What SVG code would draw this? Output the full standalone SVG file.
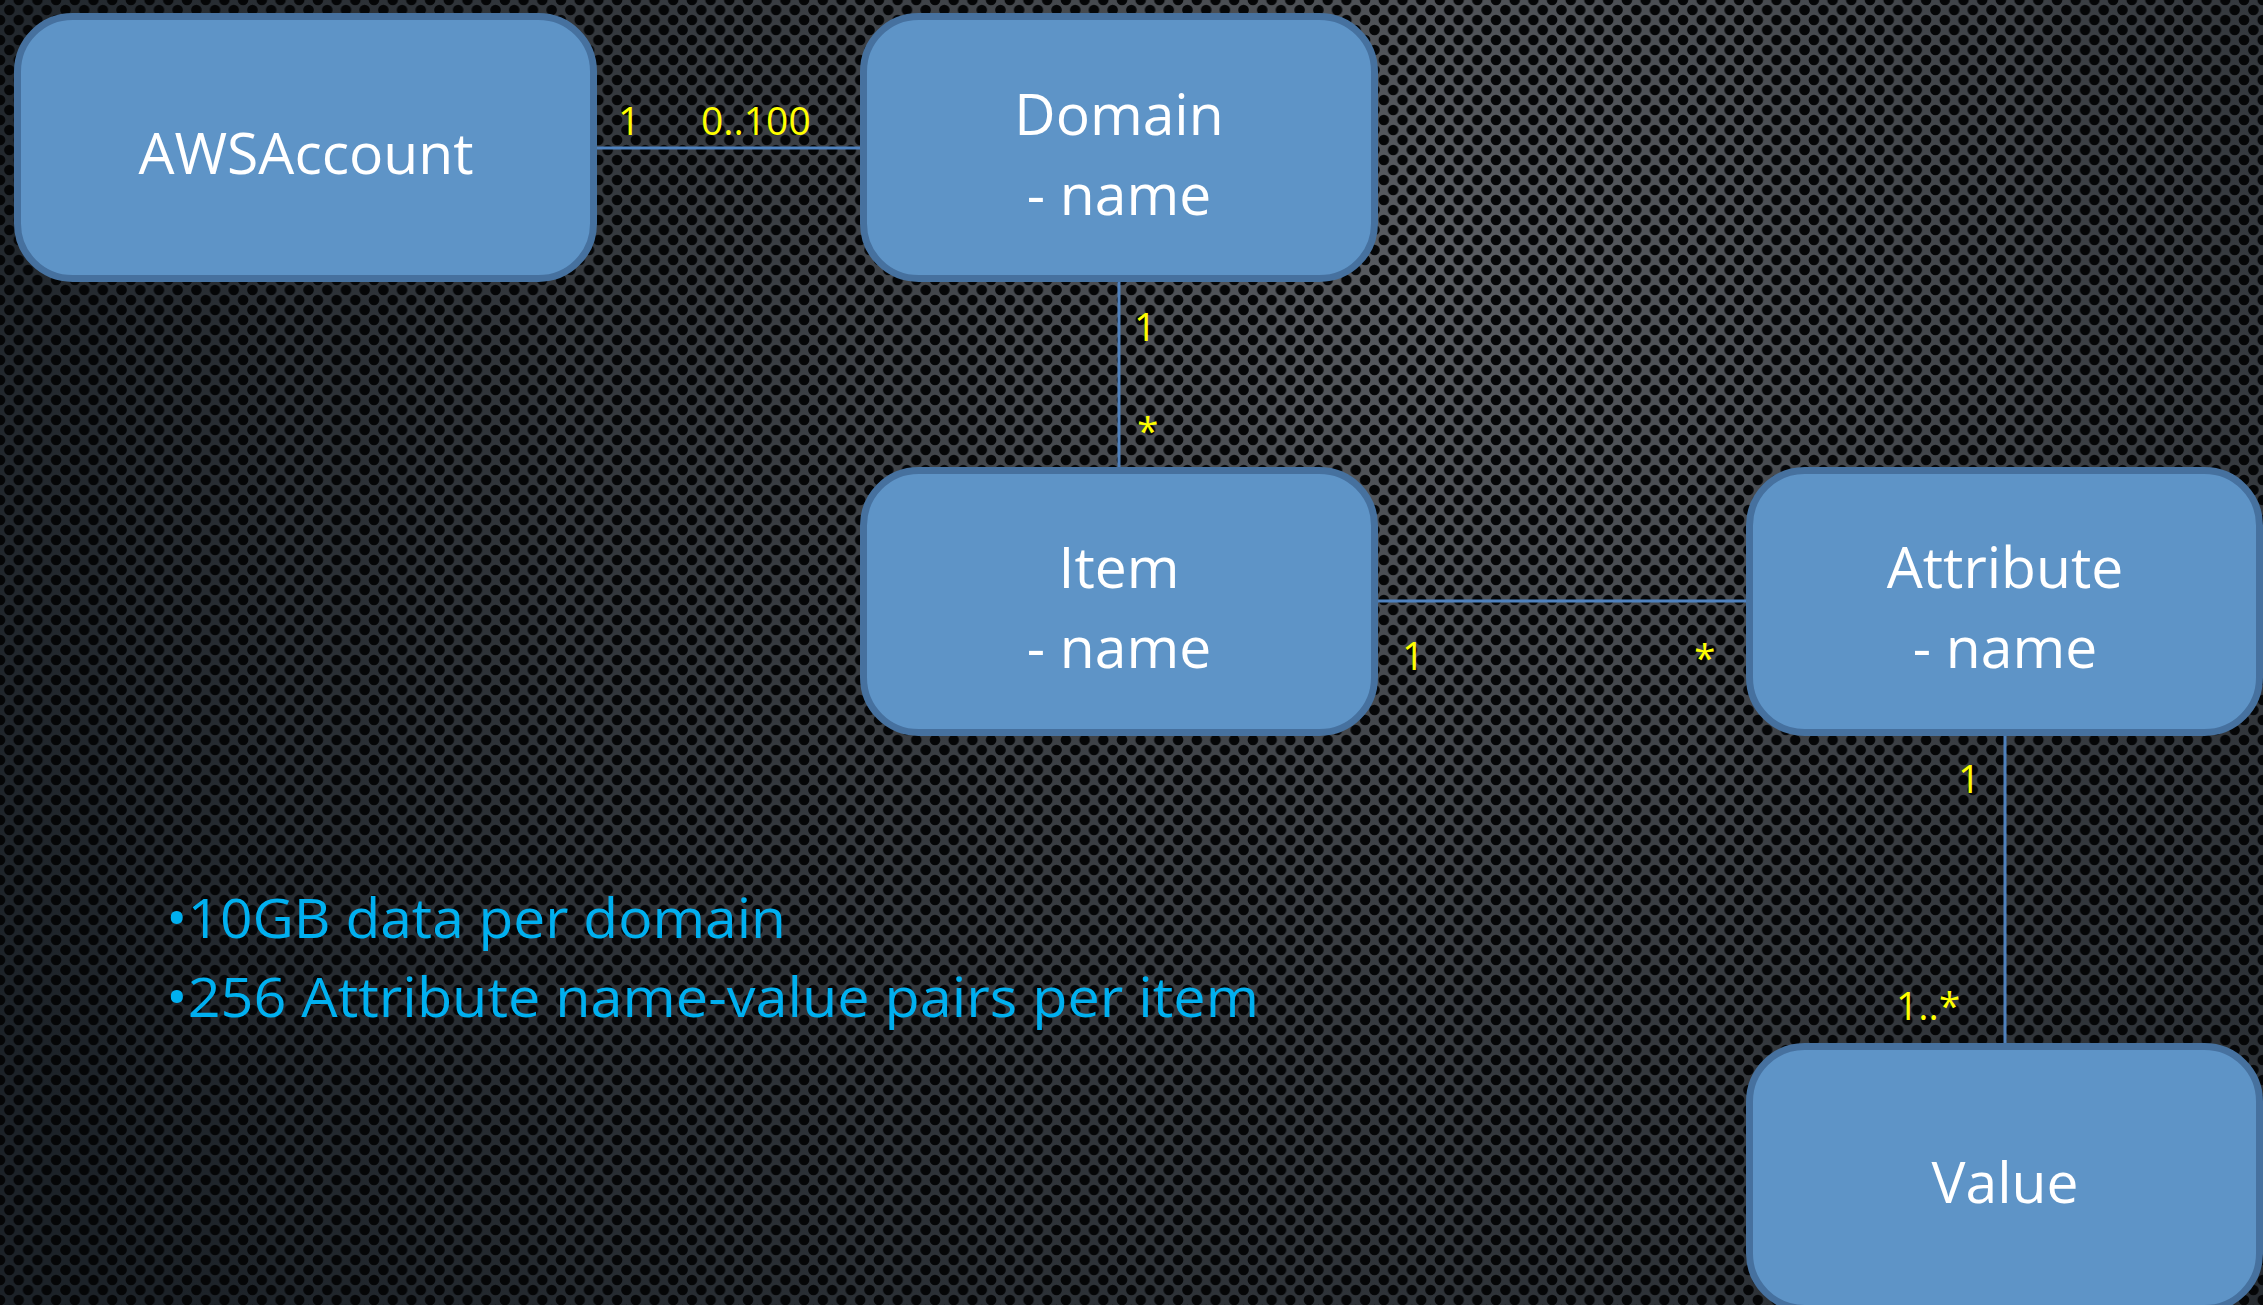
<svg xmlns="http://www.w3.org/2000/svg" width="2263" height="1305" viewBox="0 0 2263 1305">
<style>
.box{fill:#5e94c7;stroke:#46719f;stroke-width:7}
.lbl{font-family:"Open Sans","Noto Sans",sans-serif;font-size:57px;fill:#ffffff;text-anchor:middle}
.mult{font-family:"Open Sans","Noto Sans",sans-serif;font-size:39px;fill:#ffff00}
.note{font-family:"Open Sans","Noto Sans",sans-serif;font-size:54px;fill:#00b0f0}
.conn{stroke:#4f81bd;stroke-width:3;fill:none}
.hole{fill:#050607}
</style>
<defs>
<radialGradient id="bg" cx="1450" cy="250" r="1650" gradientUnits="userSpaceOnUse">
<stop offset="0" stop-color="#5a5d62"/>
<stop offset="0.45" stop-color="#383c41"/>
<stop offset="1" stop-color="#1c2228"/>
</radialGradient>
<pattern id="mesh" width="18.7" height="20" patternUnits="userSpaceOnUse">
<circle class="hole" cx="0" cy="0" r="5.3"/>
<circle class="hole" cx="18.7" cy="0" r="5.3"/>
<circle class="hole" cx="0" cy="20" r="5.3"/>
<circle class="hole" cx="18.7" cy="20" r="5.3"/>
<circle class="hole" cx="9.35" cy="10" r="5.3"/>
</pattern>
</defs>
<rect x="0" y="0" width="2263" height="1305" fill="url(#bg)"/>
<rect x="0" y="0" width="2263" height="1305" fill="url(#mesh)"/>

<g id="connectors">
<line class="conn" x1="597" y1="148" x2="860" y2="148"/>
<line class="conn" x1="1119" y1="282" x2="1119" y2="467"/>
<line class="conn" x1="1378" y1="601" x2="1746" y2="601"/>
<line class="conn" x1="2005" y1="736" x2="2005" y2="1043"/>
<text class="mult" x="618" y="135">1</text>
<text class="mult" x="701" y="135">0..100</text>
<text class="mult" x="1134" y="341">1</text>
<text class="mult" x="1137" y="445">*</text>
<text class="mult" x="1402" y="670">1</text>
<text class="mult" x="1694" y="672">*</text>
<text class="mult" x="1958" y="793">1</text>
<text class="mult" x="1896" y="1020">1..*</text>
</g>

<g id="node-awsaccount">
<rect class="box" x="17.5" y="16.5" width="576" height="262" rx="55" ry="55"/>
<text class="lbl" x="306" y="174">AWSAccount</text>
</g>
<g id="node-domain">
<rect class="box" x="863.5" y="16.5" width="511" height="262" rx="55" ry="55"/>
<text class="lbl" x="1119" y="135">Domain</text>
<text class="lbl" x="1119" y="215">- name</text>
</g>
<g id="node-item">
<rect class="box" x="863.5" y="470.5" width="511" height="262" rx="55" ry="55"/>
<text class="lbl" x="1119" y="588">Item</text>
<text class="lbl" x="1119" y="668">- name</text>
</g>
<g id="node-attribute">
<rect class="box" x="1749.5" y="470.5" width="510" height="262" rx="55" ry="55"/>
<text class="lbl" x="2005" y="588">Attribute</text>
<text class="lbl" x="2005" y="668">- name</text>
</g>
<g id="node-value">
<rect class="box" x="1749.5" y="1046.5" width="510" height="262" rx="55" ry="55"/>
<text class="lbl" x="2005" y="1203">Value</text>
</g>

<g id="notes">
<text class="note" x="166" y="938" textLength="620" lengthAdjust="spacingAndGlyphs">•10GB data per domain</text>
<text class="note" x="166" y="1017" textLength="1093" lengthAdjust="spacingAndGlyphs">•256 Attribute name-value pairs per item</text>
</g>
</svg>
